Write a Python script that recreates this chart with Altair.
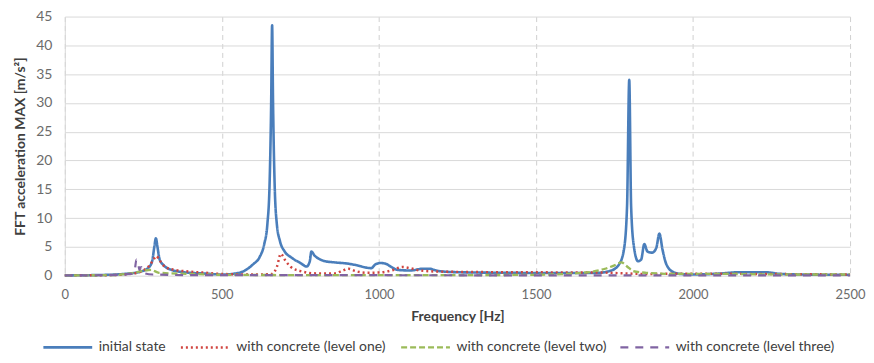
import altair as alt
import pandas as pd

series_names = ["initial state", "with concrete (level one)",
                "with concrete (level two)", "with concrete (level three)"]

init_f = [0, 100, 200, 240, 265, 278, 285, 290, 295, 302, 315, 340, 380, 450, 500, 540, 570,
          600, 620, 635, 645, 652, 657, 660, 663, 668, 675, 685, 700, 720, 750, 770, 780, 785,
          795, 810, 830, 860, 900, 930, 960, 975, 990, 1005, 1020, 1040, 1060, 1100, 1140, 1160,
          1190, 1250, 1400, 1600, 1700, 1740, 1765, 1780, 1790, 1797, 1803, 1812, 1825, 1835,
          1845, 1855, 1870, 1883, 1893, 1903, 1915, 1935, 1960, 2000, 2080, 2150, 2200, 2230,
          2280, 2350, 2500]
init_v = [0.05, 0.1, 0.35, 0.7, 1.3, 2.5, 5.0, 6.5, 5.0, 2.8, 1.8, 1.0, 0.6, 0.35, 0.2, 0.35, 0.8,
          2.0, 3.2, 5.5, 9.0, 16.0, 30.0, 43.5, 30.0, 16.0, 9.0, 6.0, 4.2, 3.2, 2.2, 1.6, 2.5, 4.2,
          3.5, 2.9, 2.5, 2.3, 2.1, 1.8, 1.4, 1.3, 2.0, 2.2, 2.1, 1.5, 1.0, 0.9, 1.2, 1.2,
          0.8, 0.6, 0.5, 0.45, 0.5, 0.9, 2.0, 4.5, 12.0, 34.0, 12.0, 5.0, 2.5, 2.8,
          5.5, 4.2, 4.0, 4.8, 7.3, 4.5, 2.0, 0.7, 0.3, 0.2, 0.35, 0.6, 0.6, 0.6,
          0.3, 0.2, 0.15]

one_f = [0, 150, 220, 250, 270, 285, 292, 300, 320, 350, 400, 450, 500, 600, 660, 675, 688, 700,
         720, 750, 800, 860, 885, 903, 925, 960, 1000, 1040, 1075, 1100, 1130, 1200, 1400, 1700,
         1780, 1850, 2000, 2200, 2500]
one_v = [0.05, 0.1, 0.4, 0.9, 1.8, 3.0, 3.4, 2.8, 1.5, 1.0, 0.7, 0.5, 0.3, 0.2, 0.3, 1.5, 3.8, 2.8,
         1.5, 0.8, 0.4, 0.4, 0.9, 1.2, 0.8, 0.5, 0.55, 0.9, 1.5, 1.3, 0.9, 0.7, 0.6, 0.55,
         0.4, 0.3, 0.35, 0.3, 0.2]

two_f = [0, 150, 220, 250, 275, 300, 400, 500, 800, 1200, 1500, 1650, 1720, 1750, 1772, 1790,
         1810, 1850, 1950, 2100, 2300, 2500]
two_v = [0.05, 0.1, 0.5, 0.85, 1.0, 0.5, 0.3, 0.15, 0.1, 0.1, 0.15, 0.5, 1.2, 1.8, 2.3, 1.6,
         0.8, 0.5, 0.3, 0.3, 0.2, 0.2]

three_f = [0, 150, 210, 222, 228, 233, 238, 243, 248, 255, 280, 400, 1000, 1500, 2000, 2500]
three_v = [0.05, 0.1, 0.3, 0.8, 2.8, 2.2, 1.0, 1.5, 1.0, 0.4, 0.2, 0.1, 0.08, 0.06, 0.06, 0.05]

colors = ["#4a7ebb", "#d0443f", "#9bbb59", "#8064a2"]
dashes = [[1, 0], [2, 3], [6, 3], [8, 7]]
widths = [2.6, 2.2, 2.2, 2.2]

rows = []
for name, fs, vs in zip(series_names, [init_f, one_f, two_f, three_f],
                        [init_v, one_v, two_v, three_v]):
    for f, v in zip(fs, vs):
        rows.append({"series": name, "freq": f, "val": v, "order": series_names.index(name)})
df = pd.DataFrame(rows)

chart = alt.Chart(df).mark_line(interpolate="monotone").encode(
    x=alt.X("freq:Q", title="Frequency [Hz]",
            scale=alt.Scale(domain=[0, 2500], nice=False),
            axis=alt.Axis(values=[0, 500, 1000, 1500, 2000, 2500], format="d", grid=True,
                          gridDash=[5, 4], gridColor="#d0d0d0", domain=False, ticks=False,
                          labelFlush=False, labelFontSize=13, labelPadding=13, titlePadding=8)),
    y=alt.Y("val:Q", title="FFT acceleration MAX [m/s²]",
            scale=alt.Scale(domain=[0, 45], nice=False),
            axis=alt.Axis(values=list(range(0, 50, 5)), grid=True, gridColor="#d9d9d9",
                          domain=True, domainColor="#d9d9d9", ticks=False,
                          labelPadding=13, titlePadding=8)),
    color=alt.Color("series:N", sort=series_names,
                    scale=alt.Scale(domain=series_names, range=colors),
                    legend=alt.Legend(title=None, orient="none", direction="horizontal",
                                      legendX=-23, legendY=306, symbolType="stroke",
                                      symbolSize=2400, symbolStrokeWidth=2.5,
                                      labelFontSize=14, labelColor="#404040",
                                      labelFont="Lato", columnPadding=9, labelOffset=5,
                                      labelLimit=300)),
    strokeDash=alt.StrokeDash("series:N", sort=series_names,
                              scale=alt.Scale(domain=series_names, range=dashes)),
    strokeWidth=alt.StrokeWidth("series:N", sort=series_names,
                                scale=alt.Scale(domain=series_names, range=widths),
                                legend=None),
    order=alt.Order("order:Q"),
).properties(
    width=788, height=260,
    autosize=alt.AutoSizeParams(type="none"),
    padding={"left": 57, "top": 8, "right": 16, "bottom": 78},
).configure_axis(
    labelFont="Lato", labelFontSize=14, labelColor="#6b6b6b",
    titleFont="Lato", titleFontSize=14, titleColor="#404040", titleFontWeight="bold",
).configure_view(stroke=None)

chart.save("out.html", embed_options={"renderer": "svg", "actions": False})
